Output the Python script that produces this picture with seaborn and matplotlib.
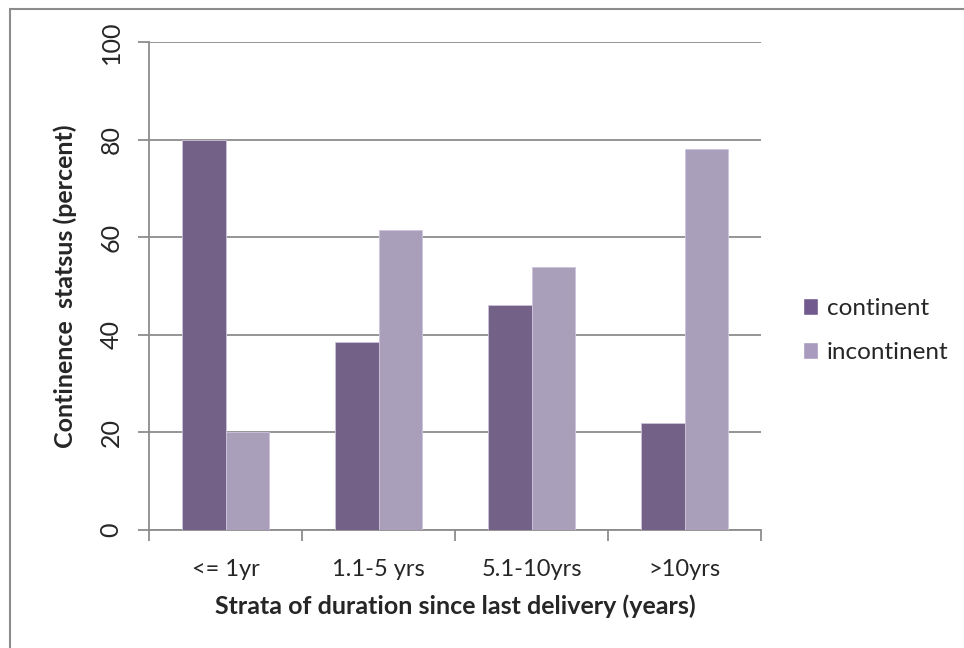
import pandas as pd
import seaborn as sns
import matplotlib.pyplot as plt
import matplotlib.patches as mpatches

strata = ['<= 1yr', '1.1-5 yrs', '5.1-10yrs', '>10yrs']
continent = [80.0, 38.5, 46.2, 21.9]
incontinent = [20.0, 61.5, 53.8, 78.1]
status_names = ['continent', 'incontinent']
colors = {'continent': '#725a8e', 'incontinent': '#a99bbe'}

df = pd.DataFrame({
    'strata': strata * 2,
    'percent': continent + incontinent,
    'status': ['continent'] * 4 + ['incontinent'] * 4,
})

sns.set_style('white')
plt.rcParams['font.family'] = ['Lato', 'DejaVu Sans']

fig = plt.figure(figsize=(9.64, 6.48), dpi=100)
ax = fig.add_axes([0.1546, 0.1821, 0.6349, 0.7531])

sns.barplot(data=df, x='strata', y='percent', hue='status', order=strata,
            hue_order=status_names, palette=colors, width=0.57, gap=0,
            edgecolor='#cdc4dc', linewidth=0.6, ax=ax, zorder=3)

ax.set_ylim(0, 100)
ax.set_xlim(-0.5, 3.5)
ax.set_yticks([0, 20, 40, 60, 80, 100])
ax.yaxis.grid(True, color='#8c8c8c', linewidth=1.3)
ax.set_axisbelow(True)
for s in ['top', 'right']:
    ax.spines[s].set_visible(False)
for s in ['left', 'bottom']:
    ax.spines[s].set_color('#8c8c8c')
    ax.spines[s].set_linewidth(1.3)

ax.tick_params(axis='y', length=8, width=1.3, color='#8c8c8c', labelsize=18, pad=11, left=True)
for lab in ax.get_yticklabels():
    lab.set_rotation(90)
    lab.set_va('center')
ax.tick_params(axis='x', which='major', length=0, labelsize=17, pad=21)
ax.set_xticks([-0.5, 0.5, 1.5, 2.5, 3.5], minor=True)
ax.tick_params(axis='x', which='minor', length=8, width=1.3, color='#8c8c8c', bottom=True)

ax.set_xlabel('Strata of duration since last delivery (years)', fontsize=18, fontweight='bold', labelpad=10)
ax.set_ylabel('Continence  statsus (percent)', fontsize=18, fontweight='bold', labelpad=16)

handles = [mpatches.Patch(facecolor=colors[n], label=n) for n in status_names]
ax.legend(handles=handles, loc='center left', bbox_to_anchor=(0.820, 0.49), bbox_transform=fig.transFigure,
          frameon=False, fontsize=17.5, handlelength=0.65, handleheight=0.65, handletextpad=0.35,
          labelspacing=0.95, borderpad=0)

border = mpatches.Rectangle((10 / 964, -0.2), 1.2, 1.2 - 9 / 648, transform=fig.transFigure,
                            fill=False, edgecolor='#8c8c8c', linewidth=1.5)
fig.patches.append(border)

plt.savefig('out.png', dpi=100)
